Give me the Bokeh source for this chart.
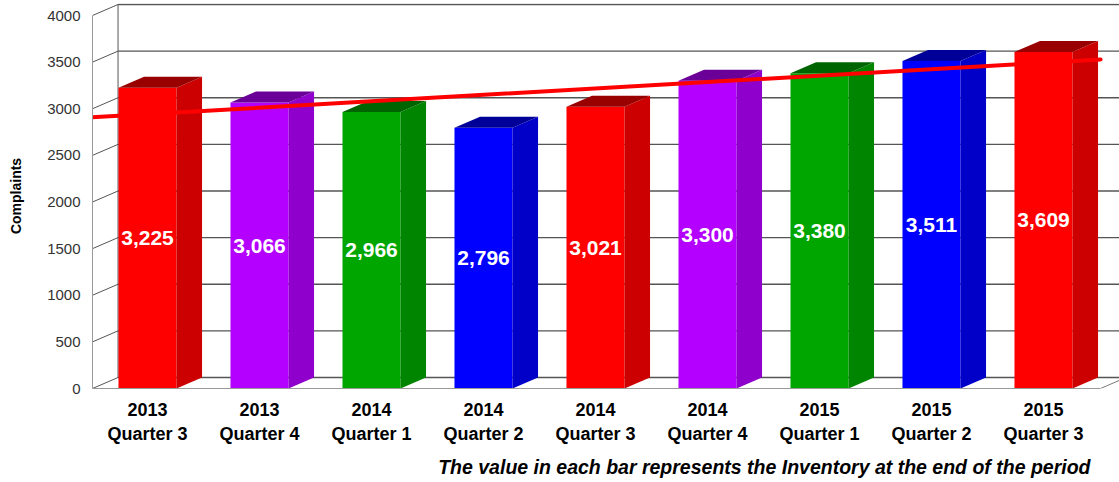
from bokeh.plotting import figure
from bokeh.models import Range1d, FixedTicker, Title
from bokeh.embed import file_html
from bokeh.resources import INLINE
from bokeh.core.properties import value

# ---- data ----
categories = ["2013\nQuarter 3", "2013\nQuarter 4", "2014\nQuarter 1", "2014\nQuarter 2",
              "2014\nQuarter 3", "2014\nQuarter 4", "2015\nQuarter 1", "2015\nQuarter 2",
              "2015\nQuarter 3"]
values = [3225, 3066, 2966, 2796, 3021, 3300, 3380, 3511, 3609]
y_ticks = [0, 500, 1000, 1500, 2000, 2500, 3000, 3500, 4000]
trend_x = [-0.53, 8.51]
trend_y = [2906, 3528]
front_colors = ["#FF0000", "#B300FF", "#00A600", "#0000FF", "#FF0000", "#B300FF", "#00A600", "#0000FF", "#FF0000"]
side_colors = ["#CC0000", "#8F00CC", "#008500", "#0000C8", "#CC0000", "#8F00CC", "#008500", "#0000C8", "#CC0000"]
top_colors = ["#990000", "#6B0099", "#006400", "#000099", "#990000", "#6B0099", "#006400", "#000099", "#990000"]
footnote = "The value in each bar represents the Inventory at the end of the period"

# ---- geometry (data units) ----
X0 = -0.491
FRAME_W = 1027
FRAME_H = 385
XEND = X0 + FRAME_W / 112
YTOP = FRAME_H / 0.09325
DX = 0.228
DY = 118
HW = 0.259

p = figure(frame_width=FRAME_W, frame_height=FRAME_H,
           x_range=Range1d(X0, XEND), y_range=Range1d(0, YTOP),
           output_backend="svg", toolbar_location=None,
           min_border_left=92, min_border_right=0, min_border_top=3, min_border_bottom=0,
           outline_line_color=None, background_fill_color="white", border_fill_color="white")
p.xgrid.visible = False
p.ygrid.visible = False

n = len(y_ticks)
p.segment(x0=[X0] * n, y0=y_ticks, x1=[X0 + DX] * n, y1=[t + DY for t in y_ticks],
          line_color="#555555", line_width=1)
p.segment(x0=[X0 + DX] * n, y0=[t + DY for t in y_ticks], x1=[XEND + 1] * n,
          y1=[t + DY for t in y_ticks], line_color="#555555", line_width=1.3)
p.segment(x0=[X0 + DX], y0=[DY], x1=[X0 + DX], y1=[y_ticks[-1] + DY],
          line_color="#555555", line_width=1)
p.segment(x0=[X0 + len(values)], y0=[0], x1=[X0 + len(values) + DX], y1=[DY],
          line_color="#777777", line_width=1)

xs_c = list(range(len(values)))
p.quad(left=[c - HW for c in xs_c], right=[c + HW for c in xs_c], bottom=0, top=values,
       fill_color=front_colors, line_color=None)
side_xs = [[c + HW, c + HW + DX, c + HW + DX, c + HW] for c in xs_c]
side_ys = [[0, DY, v + DY, v] for v in values]
p.patches(side_xs, side_ys, fill_color=side_colors, line_color=None)
top_xs = [[c - HW, c + HW, c + HW + DX, c - HW + DX] for c in xs_c]
top_ys = [[v, v, v + DY, v + DY] for v in values]
p.patches(top_xs, top_ys, fill_color=top_colors, line_color=None)

p.line(trend_x, trend_y, line_color="#FF0000", line_width=4, line_cap="round")

p.text(x=xs_c, y=[v / 2 for v in values], text=[f"{v:,}" for v in values],
       text_color="white", text_font=value("Liberation Sans"), text_font_style="bold",
       text_font_size="21px", text_align="center", text_baseline="middle")

p.yaxis.ticker = FixedTicker(ticks=y_ticks)
p.yaxis.bounds = (0, 4000)
p.yaxis.major_tick_in = 0
p.yaxis.major_tick_out = 0
p.yaxis.minor_tick_in = 0
p.yaxis.minor_tick_out = 0
p.yaxis.axis_line_color = "#999999"
p.yaxis.major_label_text_font = "Liberation Sans"
p.yaxis.major_label_text_font_size = "15px"
p.yaxis.major_label_text_color = "#333333"
p.yaxis.major_label_standoff = 12
p.yaxis.axis_label = "Complaints"
p.yaxis.axis_label_text_font = "Liberation Sans"
p.yaxis.axis_label_text_font_style = "bold"
p.yaxis.axis_label_text_font_size = "14px"
p.yaxis.axis_label_text_color = "black"
p.yaxis.axis_label_standoff = 20

p.xaxis.ticker = FixedTicker(ticks=xs_c)
p.xaxis.major_label_overrides = {i: c for i, c in enumerate(categories)}
p.xaxis.bounds = (X0, X0 + len(values))
p.xaxis.major_tick_in = 0
p.xaxis.major_tick_out = 0
p.xaxis.minor_tick_in = 0
p.xaxis.minor_tick_out = 0
p.xaxis.axis_line_color = "#999999"
p.xaxis.major_label_text_font = "Liberation Sans"
p.xaxis.major_label_text_font_style = "bold"
p.xaxis.major_label_text_font_size = "18px"
p.xaxis.major_label_text_color = "black"
p.xaxis.major_label_standoff = 11

p.add_layout(Title(text=footnote, align="right", offset=29, standoff=14,
                   text_font="Liberation Sans", text_font_style="bold italic",
                   text_font_size="19.5px", text_color="black"), "below")

open("out.html", "w").write(file_html(p, INLINE))
